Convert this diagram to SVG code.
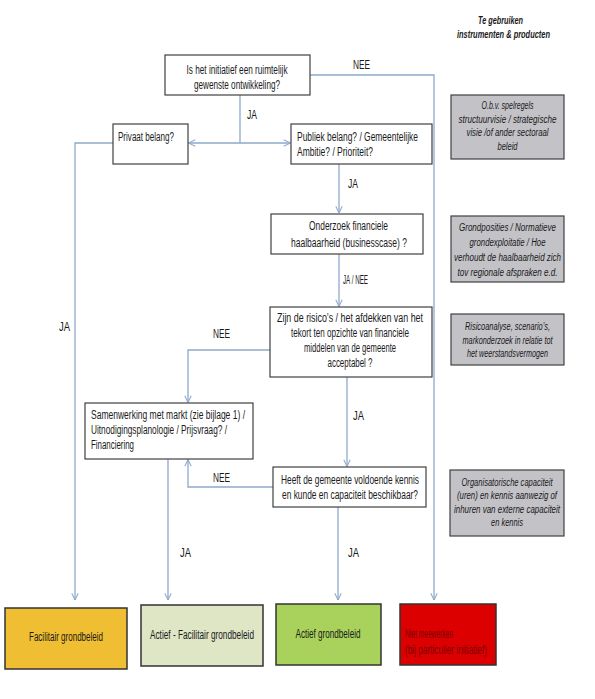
<svg xmlns="http://www.w3.org/2000/svg" width="595" height="699" viewBox="0 0 595 699">
<defs>
<marker id="arr" viewBox="0 0 10 10" refX="9.5" refY="5" markerWidth="8" markerHeight="8" markerUnits="userSpaceOnUse" orient="auto">
<path d="M1,1 L9.5,5 L1,9" fill="none" stroke="#8EA9CC" stroke-width="1.3"/>
</marker>
<style>
.c{fill:none;stroke:#8EA9CC;stroke-width:1.3}
.b{fill:#fff;stroke:#404040;stroke-width:1.2}
.g{fill:#C3C2C7;stroke:#404040;stroke-width:1.2}
.r{stroke:#333;stroke-width:1.5}
text{font-family:"Liberation Sans",Arial,sans-serif;font-size:12.5px;fill:#1a1a1a}
.m{text-anchor:middle}
.i{font-style:italic;font-size:10px}
.h{font-style:italic;font-weight:bold;font-size:11px}
.red{fill:#7A0000}
</style>
</defs>
<rect width="595" height="699" fill="#fff"/>

<g id="connectors">
<path class="c" d="M310,75 H434 V600" marker-end="url(#arr)"/>
<path class="c" d="M240,95 V143"/>
<path class="c" d="M240,143 H188.5" marker-end="url(#arr)"/>
<path class="c" d="M240,143 H290.5" marker-end="url(#arr)"/>
<path class="c" d="M113,143 H75 V600" marker-end="url(#arr)"/>
<path class="c" d="M339,164 V213" marker-end="url(#arr)"/>
<path class="c" d="M339,254 V306.5" marker-end="url(#arr)"/>
<path class="c" d="M270,350 H188 V402.5" marker-end="url(#arr)"/>
<path class="c" d="M347,377 V466.5" marker-end="url(#arr)"/>
<path class="c" d="M273,487 H188 V459.5" marker-end="url(#arr)"/>
<path class="c" d="M168,459 V600" marker-end="url(#arr)"/>
<path class="c" d="M338,507 V600" marker-end="url(#arr)"/>
<text x="353" y="69" textLength="17" lengthAdjust="spacingAndGlyphs">NEE</text>
<text x="247" y="119" textLength="10" lengthAdjust="spacingAndGlyphs">JA</text>
<text x="348" y="188" textLength="10" lengthAdjust="spacingAndGlyphs">JA</text>
<text x="343" y="284" textLength="25" lengthAdjust="spacingAndGlyphs">JA / NEE</text>
<text x="59" y="331" textLength="11" lengthAdjust="spacingAndGlyphs">JA</text>
<text x="213" y="338" textLength="17" lengthAdjust="spacingAndGlyphs">NEE</text>
<text x="353" y="420" textLength="11" lengthAdjust="spacingAndGlyphs">JA</text>
<text x="213" y="482" textLength="17" lengthAdjust="spacingAndGlyphs">NEE</text>
<text x="180" y="557" textLength="11" lengthAdjust="spacingAndGlyphs">JA</text>
<text x="348" y="557" textLength="11" lengthAdjust="spacingAndGlyphs">JA</text>
</g>

<g id="header">
<text class="h m" x="500.5" y="24" textLength="45" lengthAdjust="spacingAndGlyphs">Te gebruiken</text>
<text class="h m" x="503.5" y="38" textLength="93" lengthAdjust="spacingAndGlyphs">instrumenten &amp; producten</text>
</g>

<g id="q1">
<rect class="b" x="165" y="55" width="145" height="40"/>
<text class="m" x="237" y="74" textLength="101" lengthAdjust="spacingAndGlyphs">Is het initiatief een ruimtelijk</text>
<text class="m" x="237" y="89" textLength="86" lengthAdjust="spacingAndGlyphs">gewenste ontwikkeling?</text>
</g>

<g id="privaat">
<rect class="b" x="113" y="124" width="75" height="40"/>
<text x="118" y="141" textLength="56" lengthAdjust="spacingAndGlyphs">Privaat  belang?</text>
</g>

<g id="publiek">
<rect class="b" x="291" y="124" width="141" height="40"/>
<text x="297" y="141" textLength="121" lengthAdjust="spacingAndGlyphs">Publiek belang?  /  Gemeentelijke</text>
<text x="297" y="156" textLength="76" lengthAdjust="spacingAndGlyphs">Ambitie? / Prioriteit?</text>
</g>

<g id="onderzoek">
<rect class="b" x="271" y="214" width="152" height="40"/>
<text class="m" x="348.5" y="230" textLength="79" lengthAdjust="spacingAndGlyphs">Onderzoek financiele</text>
<text class="m" x="349" y="247" textLength="116" lengthAdjust="spacingAndGlyphs">haalbaarheid  (businesscase) ?</text>
</g>

<g id="risico">
<rect class="b" x="270" y="307" width="162" height="70"/>
<text class="m" x="350" y="322" textLength="146" lengthAdjust="spacingAndGlyphs">Zijn de risico’s  / het afdekken van het</text>
<text class="m" x="350" y="337" textLength="118" lengthAdjust="spacingAndGlyphs">tekort ten opzichte van financiele</text>
<text class="m" x="350" y="352" textLength="92" lengthAdjust="spacingAndGlyphs">middelen van de gemeente</text>
<text class="m" x="350" y="367" textLength="45" lengthAdjust="spacingAndGlyphs">acceptabel ?</text>
</g>

<g id="samenwerking">
<rect class="b" x="85" y="403" width="168" height="56"/>
<text x="91" y="419" textLength="154" lengthAdjust="spacingAndGlyphs">Samenwerking met markt (zie bijlage 1)  /</text>
<text x="91" y="434" textLength="136" lengthAdjust="spacingAndGlyphs">Uitnodigingsplanologie  / Prijsvraag?  /</text>
<text x="91" y="449" textLength="43" lengthAdjust="spacingAndGlyphs">Financiering</text>
</g>

<g id="heeft">
<rect class="b" x="273" y="467" width="153" height="40"/>
<text class="m" x="350" y="484" textLength="138" lengthAdjust="spacingAndGlyphs">Heeft de gemeente  voldoende  kennis</text>
<text class="m" x="350" y="499" textLength="136" lengthAdjust="spacingAndGlyphs">en kunde  en capaciteit beschikbaar?</text>
</g>

<g id="instrA">
<rect class="g" x="451" y="95" width="113" height="64"/>
<text class="i m" x="507.5" y="109" textLength="52" lengthAdjust="spacingAndGlyphs">O.b.v. spelregels</text>
<text class="i m" x="507.5" y="122.5" textLength="98" lengthAdjust="spacingAndGlyphs">structuurvisie / strategische</text>
<text class="i m" x="507.5" y="136" textLength="82" lengthAdjust="spacingAndGlyphs">visie /of ander  sectoraal</text>
<text class="i m" x="507.5" y="149.5" textLength="20" lengthAdjust="spacingAndGlyphs">beleid</text>
</g>

<g id="instrB">
<rect class="g" x="451" y="216" width="113" height="66"/>
<text class="i m" x="507.5" y="231" textLength="97" lengthAdjust="spacingAndGlyphs">Grondposities /  Normatieve</text>
<text class="i m" x="507.5" y="246" textLength="76" lengthAdjust="spacingAndGlyphs">grondexploitatie / Hoe</text>
<text class="i m" x="507.5" y="261" textLength="107" lengthAdjust="spacingAndGlyphs">verhoudt de haalbaarheid zich</text>
<text class="i m" x="507.5" y="276" textLength="100" lengthAdjust="spacingAndGlyphs">tov regionale afspraken e.d.</text>
</g>

<g id="instrC">
<rect class="g" x="451" y="314" width="113" height="51"/>
<text class="i m" x="507.5" y="330" textLength="85" lengthAdjust="spacingAndGlyphs">Risicoanalyse, scenario’s,</text>
<text class="i m" x="507.5" y="343.5" textLength="90" lengthAdjust="spacingAndGlyphs">markonderzoek in relatie tot</text>
<text class="i m" x="507.5" y="357" textLength="81" lengthAdjust="spacingAndGlyphs">het weerstandsvermogen</text>
</g>

<g id="instrD">
<rect class="g" x="450" y="470" width="114" height="66"/>
<text class="i m" x="507" y="485.5" textLength="91" lengthAdjust="spacingAndGlyphs">Organisatorische  capaciteit</text>
<text class="i m" x="507" y="499" textLength="100" lengthAdjust="spacingAndGlyphs">(uren)  en kennis aanwezig of</text>
<text class="i m" x="507" y="512.5" textLength="106" lengthAdjust="spacingAndGlyphs">inhuren van externe capaciteit</text>
<text class="i m" x="507" y="526" textLength="32" lengthAdjust="spacingAndGlyphs">en kennis</text>
</g>

<g id="facilitair">
<rect class="r" x="5" y="608" width="122" height="61" fill="#F0BE32"/>
<text class="m" x="66" y="641" textLength="74" lengthAdjust="spacingAndGlyphs">Facilitair grondbeleid</text>
</g>

<g id="actief-facilitair">
<rect class="r" x="141" y="605" width="122" height="61" fill="#DEE6C6"/>
<text class="m" x="202" y="639" textLength="104" lengthAdjust="spacingAndGlyphs">Actief  - Facilitair grondbeleid</text>
</g>

<g id="actief">
<rect class="r" x="276" y="604" width="105" height="61" fill="#A9D25C"/>
<text class="m" x="328" y="638" textLength="65" lengthAdjust="spacingAndGlyphs">Actief grondbeleid</text>
</g>

<g id="niet">
<rect class="r" x="400" y="604" width="96" height="61" fill="#DD0000"/>
<text class="red" x="405" y="638" textLength="48" lengthAdjust="spacingAndGlyphs">Niet meewerken</text>
<text class="red" x="405" y="654" textLength="82" lengthAdjust="spacingAndGlyphs">(bij particulier  initiatief)</text>
</g>
</svg>
